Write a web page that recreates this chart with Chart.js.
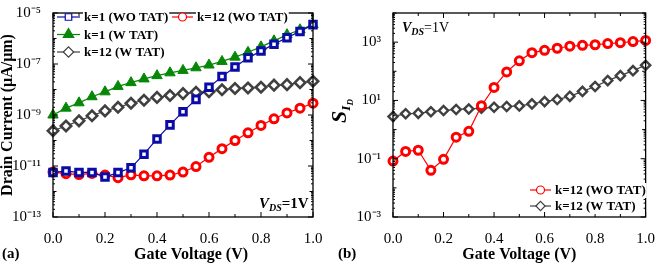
<!DOCTYPE html>
<html>
<head>
<meta charset="utf-8">
<script src="https://cdn.jsdelivr.net/npm/chart.js@4.4.0/dist/chart.umd.min.js"></script>
<style>
  body { margin: 0; background: #fff; }
  #wrap { position: relative; width: 660px; height: 265px; }
  .box { position: absolute; top: 0; width: 330px; height: 265px; }
</style>
</head>
<body>
<div id="wrap">
  <div class="box" style="left:0"><canvas id="chartA" width="330" height="265"></canvas></div>
  <div class="box" style="left:330px"><canvas id="chartB" width="330" height="265"></canvas></div>
</div>
<script>
// Data
const gateVoltage = [0, 0.05, 0.1, 0.15, 0.2, 0.25, 0.3, 0.35, 0.4, 0.45, 0.5,
                     0.55, 0.6, 0.65, 0.7, 0.75, 0.8, 0.85, 0.9, 0.95, 1.0];

// (a) drain current, uA/um
const k1WoTat = [5.6e-12, 6.3e-12, 5.6e-12, 5.6e-12, 3.7e-12, 5.5e-12, 8.5e-12, 2.9e-11, 1.15e-10, 4.1e-10, 1.35e-9,
                 4.1e-9, 1.23e-8, 3.2e-8, 7.6e-8, 1.74e-7, 3.2e-7, 6.0e-7, 1.07e-6, 1.9e-6, 3.5e-6];
const k12WoTat = [5.8e-12, 5.0e-12, 4.6e-12, 5.1e-12, 4.4e-12, 3.5e-12, 4.5e-12, 4.1e-12, 4.1e-12, 4.4e-12, 5.8e-12,
                  9.5e-12, 2.2e-11, 4.8e-11, 1.0e-10, 2.0e-10, 3.9e-10, 7.1e-10, 1.2e-9, 1.86e-9, 2.9e-9];
const k1WTat = [1.0e-9, 1.86e-9, 3.0e-9, 5.2e-9, 8.1e-9, 1.32e-8, 1.86e-8, 2.6e-8, 3.5e-8, 4.5e-8, 5.6e-8,
                7.1e-8, 9.1e-8, 1.26e-7, 1.86e-7, 2.9e-7, 4.7e-7, 8.1e-7, 1.41e-6, 2.2e-6, 3.5e-6];
const k12WTat = [2.4e-10, 3.7e-10, 5.9e-10, 9.3e-10, 1.45e-9, 2.0e-9, 2.9e-9, 3.8e-9, 4.9e-9, 5.8e-9, 6.9e-9,
                 7.8e-9, 8.1e-9, 9.8e-9, 1.1e-8, 1.15e-8, 1.23e-8, 1.48e-8, 1.55e-8, 1.86e-8, 2.1e-8];

// (b) sensitivity S_ID
const sensWoTat = [0.083, 0.178, 0.195, 0.04, 0.095, 0.55, 0.87, 6.6, 28, 95, 229,
                   436, 525, 617, 724, 776, 813, 891, 955, 1047, 1148];
const sensWTat = [2.8, 3.5, 3.6, 4.1, 4.5, 4.9, 5.1, 5.4, 5.8, 6.2, 6.5,
                  7.6, 9.1, 10.7, 13.8, 20.4, 30.2, 47.9, 70.8, 105, 162];

// Axis ticks
const aYTicks = [1e-13, 1e-12, 1e-11, 1e-10, 1e-9, 1e-8, 1e-7, 1e-6, 1e-5];
const aYLabeled = [1e-13, 1e-11, 1e-9, 1e-7, 1e-5];
const bYTicks = [1e-3, 1e-2, 1e-1, 1, 10, 100, 1e3, 1e4];
const bYLabeled = [1e-3, 1e-1, 10, 1e3];
const xLabeled = ['0.0', '0.2', '0.4', '0.6', '0.8', '1.0'];

const SERIF = "'Liberation Serif', 'Times New Roman', serif";
Chart.defaults.font.family = SERIF;
Chart.defaults.color = '#000';

const sup = { '-': '⁻', '0': '⁰', '1': '¹', '2': '²', '3': '³', '4': '⁴', '5': '⁵', '6': '⁶', '7': '⁷', '8': '⁸', '9': '⁹' };
function powLabel(v) {
  const e = String(Math.round(Math.log10(v)));
  return '10' + e.split('').map(c => sup[c]).join('');
}

const styles = {
  blueSq: { borderColor: '#0b0ba6', pointStyle: 'rect', pointRadius: 4.6, pointBorderWidth: 3, pointBackgroundColor: '#fff' },
  redCirc: { borderColor: '#ff0000', pointStyle: 'circle', pointRadius: 4, pointBorderWidth: 3, pointBackgroundColor: '#fff' },
  greenTri: { borderColor: '#078707', pointStyle: 'triangle', pointRadius: 6, pointBorderWidth: 1, pointBackgroundColor: '#078707' },
  grayDia: { borderColor: '#404040', pointStyle: 'rectRot', pointRadius: 5.2, pointBorderWidth: 2.6, pointBackgroundColor: '#fff' }
};

function makeSet(label, data, st, extra) {
  return Object.assign({
    label: label,
    data: data,
    borderWidth: 1.2,
    pointBorderColor: st.borderColor,
    pointHoverRadius: st.pointRadius,
    tension: 0,
    clip: false
  }, st, extra || {});
}

// frame with inward ticks on all four sides
const frameTicks = {
  id: 'frameTicks',
  afterDraw(chart) {
    const { ctx, chartArea: a, scales } = chart;
    const labeled = chart.options.plugins.frameTicks.labeled;
    ctx.save();
    ctx.strokeStyle = '#000';
    ctx.lineWidth = 1.3;
    ctx.strokeRect(a.left, a.top, a.right - a.left, a.bottom - a.top);
    ctx.lineWidth = 1;
    const seg = (x1, y1, x2, y2) => { ctx.beginPath(); ctx.moveTo(x1, y1); ctx.lineTo(x2, y2); ctx.stroke(); };
    scales.x.ticks.forEach(t => {
      const px = scales.x.getPixelForValue(t.value);
      const len = t.label ? 5 : 3;
      seg(px, a.bottom, px, a.bottom - len);
      seg(px, a.top, px, a.top + len);
    });
    const ys = scales.y;
    ys.ticks.forEach(t => {
      const py = ys.getPixelForValue(t.value);
      const len = labeled.includes(t.value) ? 5 : 3.5;
      seg(a.left, py, a.left + len, py);
      seg(a.right, py, a.right - len, py);
      for (let m = 2; m <= 9; m++) {
        const v = t.value * m;
        if (v >= ys.max) break;
        const pm = ys.getPixelForValue(v);
        seg(a.left, pm, a.left + 2, pm);
        seg(a.right, pm, a.right - 2, pm);
      }
    });
    ctx.restore();
  }
};

function drawParts(ctx, parts, x, y) {
  let cx = x;
  parts.forEach(p => {
    ctx.font = p[1];
    ctx.fillText(p[0], cx, y + (p[2] || 0));
    cx += ctx.measureText(p[0]).width;
  });
  return cx - x;
}

function partsWidth(ctx, parts) {
  let w = 0;
  parts.forEach(p => { ctx.font = p[1]; w += ctx.measureText(p[0]).width; });
  return w;
}

// custom legend and text annotations
const extras = {
  id: 'extras',
  afterDraw(chart) {
    const { ctx } = chart;
    const opts = chart.options.plugins.extras;
    ctx.save();
    ctx.fillStyle = '#000';
    ctx.textBaseline = 'alphabetic';
    (opts.legend || []).forEach(item => {
      const ds = chart.data.datasets[item.index];
      ctx.font = 'bold 13px ' + SERIF;
      const tw = ctx.measureText(ds.label).width;
      ctx.fillStyle = '#fff';
      ctx.fillRect(item.x + item.w + 3, item.y - 7, tw + 2, 15);
      ctx.strokeStyle = ds.borderColor;
      ctx.lineWidth = 1.2;
      ctx.beginPath();
      ctx.moveTo(item.x, item.y);
      ctx.lineTo(item.x + item.w, item.y);
      ctx.stroke();
      ctx.fillStyle = ds.pointBackgroundColor;
      ctx.strokeStyle = ds.pointBorderColor;
      Chart.helpers.drawPoint(ctx, {
        pointStyle: ds.pointStyle, rotation: 0,
        radius: ds.pointRadius, borderWidth: ds.pointBorderWidth
      }, item.x + item.w / 2, item.y);
      ctx.fillStyle = '#000';
      ctx.textBaseline = 'middle';
      ctx.fillText(ds.label, item.x + item.w + 4, item.y + 1);
      ctx.textBaseline = 'alphabetic';
    });
    (opts.texts || []).forEach(t => {
      ctx.save();
      ctx.fillStyle = '#000';
      if (t.rotate) {
        ctx.translate(t.x, t.y);
        ctx.rotate(-Math.PI / 2);
        const w = partsWidth(ctx, t.parts);
        drawParts(ctx, t.parts, -w / 2, 0);
      } else {
        drawParts(ctx, t.parts, t.x, t.y);
      }
      ctx.restore();
    });
    ctx.restore();
  }
};

function xScale(titleText) {
  return {
    type: 'linear',
    min: 0, max: 1,
    grid: { display: false },
    border: { display: false },
    ticks: {
      stepSize: 0.1,
      autoSkip: false,
      maxRotation: 0,
      padding: 5,
      font: { size: 15 },
      callback: v => {
        const s = v.toFixed(1);
        return xLabeled.includes(s) ? s : '';
      }
    },
    title: {
      display: true,
      text: titleText,
      font: { size: 16, weight: 'bold' },
      padding: { top: 0, bottom: 1 }
    },
    afterFit: s => { s.height = 48; }
  };
}

function yScale(min, max, ticks, labeled, width, title) {
  return {
    type: 'logarithmic',
    min: min, max: max,
    grid: { display: false },
    border: { display: false },
    afterBuildTicks: s => { s.ticks = ticks.map(v => ({ value: v })); },
    ticks: {
      autoSkip: false,
      padding: 4,
      font: { size: 15 },
      callback: v => labeled.includes(v) ? powLabel(v) : ''
    },
    title: title,
    afterFit: s => { s.width = width; }
  };
}

new Chart(document.getElementById('chartA'), {
  type: 'line',
  data: {
    datasets: [
      makeSet('k=1 (WO TAT)', k1WoTat, styles.blueSq),
      makeSet('k=12 (WO TAT)', k12WoTat, styles.redCirc),
      makeSet('k=1 (W TAT)', k1WTat, styles.greenTri),
      makeSet('k=12 (W TAT)', k12WTat, styles.grayDia)
    ].map(d => Object.assign(d, { data: d.data.map((y, i) => ({ x: gateVoltage[i], y: y })) }))
  },
  options: {
    responsive: false,
    animation: false,
    devicePixelRatio: 1,
    layout: { padding: { left: 0, right: 17, top: 7, bottom: 0 } },
    scales: {
      x: xScale('\u2003Gate Voltage (V)'),
      y: yScale(1e-13, 1e-5, aYTicks, aYLabeled, 53, {
        display: true,
        text: 'Drain Current (μA/μm)',
        font: { size: 16, weight: 'bold', lineHeight: 1 },
        padding: { top: 0, bottom: 0 }
      })
    },
    plugins: {
      legend: { display: false },
      tooltip: { enabled: false },
      frameTicks: { labeled: aYLabeled },
      extras: {
        legend: [
          { index: 0, x: 57, y: 17, w: 23 },
          { index: 1, x: 172, y: 17, w: 21 },
          { index: 2, x: 57, y: 34.5, w: 23 },
          { index: 3, x: 57, y: 52, w: 23 }
        ],
        texts: [
          { x: 259, y: 208, parts: [['V', 'italic bold 15px ' + SERIF], ['DS', 'italic bold 10px ' + SERIF, 3], ['=1V', 'bold 15px ' + SERIF]] },
          { x: 2, y: 258, parts: [['(a)', 'bold 15px ' + SERIF]] }
        ]
      }
    }
  },
  plugins: [frameTicks, extras]
});

new Chart(document.getElementById('chartB'), {
  type: 'line',
  data: {
    datasets: [
      makeSet('k=12 (WO TAT)', sensWoTat, styles.redCirc),
      makeSet('k=12 (W TAT)', sensWTat, styles.grayDia, { pointRadius: 4.6, pointBorderWidth: 2.4 })
    ].map(d => Object.assign(d, { data: d.data.map((y, i) => ({ x: gateVoltage[i], y: y })) }))
  },
  options: {
    responsive: false,
    animation: false,
    devicePixelRatio: 1,
    layout: { padding: { left: 0, right: 10, top: 12, bottom: 0 } },
    scales: {
      x: xScale('Gate Voltage (V)'),
      y: yScale(1e-3, 1e4, bYTicks, bYLabeled, 63, { display: false })
    },
    plugins: {
      legend: { display: false },
      tooltip: { enabled: false },
      frameTicks: { labeled: bYLabeled },
      extras: {
        legend: [
          { index: 0, x: 200, y: 190, w: 21 },
          { index: 1, x: 200, y: 206, w: 21 }
        ],
        texts: [
          { x: 72, y: 32, parts: [['V', 'italic bold 14px ' + SERIF], ['DS', 'italic bold 10px ' + SERIF, 3], ['=1V', '14px ' + SERIF]] },
          { x: 8, y: 258, parts: [['(b)', 'bold 15px ' + SERIF]] },
          { x: 16, y: 111, rotate: true, parts: [['S', 'italic bold 22px ' + SERIF], ['I', 'italic bold 13px ' + SERIF, 4], ['D', 'italic bold 9px ' + SERIF, 7]] }
        ]
      }
    }
  },
  plugins: [frameTicks, extras]
});
</script>
</body>
</html>
